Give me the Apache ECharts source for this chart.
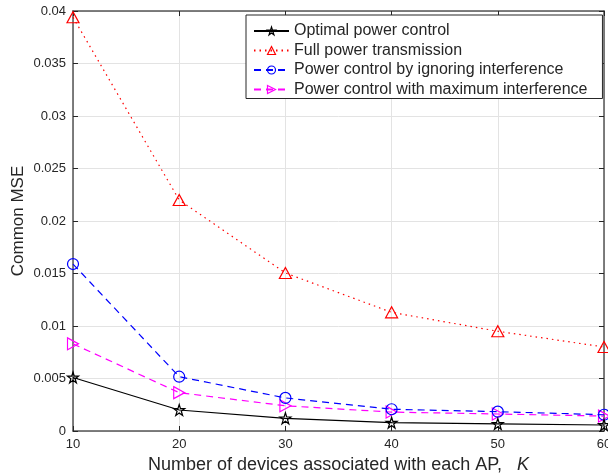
<!DOCTYPE html>
<html>
<head>
<meta charset="utf-8">
<script src="https://cdn.jsdelivr.net/npm/echarts@6/dist/echarts.min.js"></script>
<style>
html,body{margin:0;padding:0;background:#fff;}
#chart{width:608px;height:474px;}
</style>
</head>
<body>
<div id="chart"></div>
<script>
var devices = [10, 20, 30, 40, 50, 60];
var optimalPower = [0.0051, 0.0020, 0.00121, 0.00079, 0.00067, 0.00057];
var fullPower = [0.0394, 0.0220, 0.01505, 0.0113, 0.0095, 0.0080];
var ignoreInterference = [0.0159, 0.00517, 0.00315, 0.00207, 0.00184, 0.00155];
var maxInterference = [0.0083, 0.00365, 0.0024, 0.0018, 0.00162, 0.00142];
var seriesNames = ['Optimal power control', 'Full power transmission', 'Power control by ignoring interference', 'Power control with maximum interference'];
var seriesColors = ['#000000', '#ff0000', '#0000ff', '#ff00ff'];

function pairs(ys){ return devices.map(function(x,i){ return [x, ys[i]]; }); }

var starPath = 'path://M50,0 L61.2,34.5 L97.6,34.5 L68.2,55.9 L79.4,90.5 L50,69.1 L20.6,90.5 L31.8,55.9 L2.4,34.5 L38.8,34.5 Z';
var rightTri = 'path://M0,0 L100,50 L0,100 Z';
var upTri = 'path://M50,0 L100,90 L0,90 Z';

var chart = echarts.init(document.getElementById('chart'), null, {renderer:'canvas'});
var axisColor = '#555555';
var font = 'Liberation Sans, Arial, Helvetica, sans-serif';
var option = {
  animation: false,
  backgroundColor: '#ffffff',
  textStyle: {fontFamily: font},
  grid: {left: 73, right: 4, top: 11, bottom: 43, containLabel: false, outerBoundsMode: 'none'},
  legend: {
    orient: 'vertical',
    left: 246, top: 15,
    padding: [7, 15, 0, 7],
    itemWidth: 35, itemHeight: 10, itemGap: 1.5,
    backgroundColor: '#ffffff',
    borderColor: '#262626', borderWidth: 1,
    textStyle: {fontSize: 16, color: '#262626', lineHeight: 18, fontFamily: font},
    data: seriesNames.map(function(n, i){
      return {name: n, itemStyle: {color: 'rgba(255,255,255,0)', borderColor: seriesColors[i], borderWidth: 1.2}};
    })
  },
  xAxis: [{
    type: 'value', min: 10, max: 60, interval: 10,
    name: '{n|Number of devices associated with each AP,   }{k|K}',
    nameLocation: 'middle', nameGap: 18,
    nameTextStyle: {rich: {
      n: {fontSize: 18, color: '#262626', fontFamily: font},
      k: {fontSize: 18, color: '#262626', fontStyle: 'italic', fontFamily: font}
    }},
    axisLine: {show: true, onZero: false, lineStyle: {color: axisColor, width: 1.5}},
    axisTick: {show: true, inside: true, length: 5, lineStyle: {color: '#262626'}},
    axisLabel: {fontSize: 13, color: '#262626', margin: 7, fontFamily: font},
    splitLine: {show: true, lineStyle: {color: '#e3e3e3', width: 1}}
  }, {
    type: 'value', min: 10, max: 60, interval: 10, position: 'top',
    axisLine: {show: true, onZero: false, lineStyle: {color: axisColor, width: 1.5}},
    axisTick: {show: true, inside: true, length: 5, lineStyle: {color: '#262626'}},
    axisLabel: {show: false}, splitLine: {show: false}
  }],
  yAxis: [{
    type: 'value', min: 0, max: 0.04, interval: 0.005,
    name: 'Common MSE', nameLocation: 'middle', nameGap: 46, nameMoveOverlap: false,
    nameTextStyle: {fontSize: 17, color: '#262626', fontFamily: font},
    axisLine: {show: true, onZero: false, lineStyle: {color: axisColor, width: 1.5}},
    axisTick: {show: true, inside: true, length: 5, lineStyle: {color: '#262626'}},
    axisLabel: {fontSize: 13, color: '#262626', margin: 7, fontFamily: font,
      formatter: function(v){ var r = Math.round(v*1000)/1000; return String(r); }},
    splitLine: {show: true, lineStyle: {color: '#e3e3e3', width: 1}}
  }, {
    type: 'value', min: 0, max: 0.04, interval: 0.005, position: 'right',
    axisLine: {show: true, onZero: false, lineStyle: {color: axisColor, width: 1.5}},
    axisTick: {show: true, inside: true, length: 5, lineStyle: {color: '#262626'}},
    axisLabel: {show: false}, splitLine: {show: false}
  }],
  series: [
    {
      name: seriesNames[0], type: 'line', data: pairs(optimalPower), clip: false, z: 5,
      symbol: starPath, symbolSize: 11, showAllSymbol: true,
      lineStyle: {color: seriesColors[0], width: 1.2, type: 'solid'},
      itemStyle: {color: 'rgba(255,255,255,0)', borderColor: seriesColors[0], borderWidth: 1.2}
    },
    {
      name: seriesNames[1], type: 'line', data: pairs(fullPower), clip: false, z: 2,
      symbol: upTri, symbolSize: [12, 11],
      lineStyle: {color: seriesColors[1], width: 1.2, type: [1.5, 4]},
      itemStyle: {color: 'rgba(255,255,255,0)', borderColor: seriesColors[1], borderWidth: 1.2}
    },
    {
      name: seriesNames[2], type: 'line', data: pairs(ignoreInterference), clip: false, z: 4,
      symbol: 'circle', symbolSize: 11,
      lineStyle: {color: seriesColors[2], width: 1.2, type: [7, 5]},
      itemStyle: {color: 'rgba(255,255,255,0)', borderColor: seriesColors[2], borderWidth: 1.2}
    },
    {
      name: seriesNames[3], type: 'line', data: pairs(maxInterference), clip: false, z: 3,
      symbol: rightTri, symbolSize: [11, 12],
      lineStyle: {color: seriesColors[3], width: 1.2, type: [7, 5]},
      itemStyle: {color: 'rgba(255,255,255,0)', borderColor: seriesColors[3], borderWidth: 1.2}
    }
  ]
};
chart.setOption(option);
</script>
</body>
</html>
